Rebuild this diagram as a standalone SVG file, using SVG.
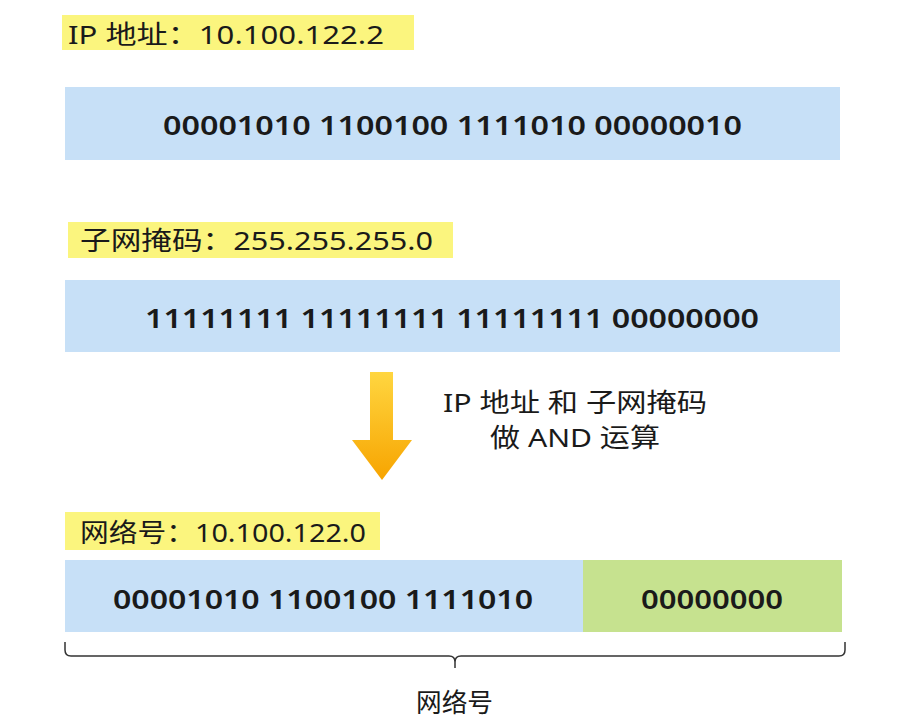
<svg xmlns="http://www.w3.org/2000/svg" width="911" height="726" viewBox="0 0 911 726">
<defs>
<style>
.lbl{fill:#fbf57e}
.bar{fill:#c7e0f7}
.grn{fill:#c6e28f}
.t{font-family:"Noto Sans","Noto Sans CJK SC",sans-serif;fill:#1a1a1a}
.l{font-size:26px}
.b{font-size:27px;font-weight:600}
.c{font-size:26px}
</style>
<linearGradient id="og" x1="0" y1="0" x2="0" y2="1"><stop offset="0" stop-color="#ffd640"/><stop offset="1" stop-color="#f7a400"/></linearGradient>
</defs>
<rect width="911" height="726" fill="#fff"/>
<g id="ip-label"><rect class="lbl" x="62" y="15" width="352" height="35"/><text class="t l" x="68" y="44" textLength="316" lengthAdjust="spacingAndGlyphs">IP 地址：10.100.122.2</text></g>
<g id="ip-bin"><rect class="bar" x="65" y="87" width="775" height="73"/><text class="t b" x="163" y="135" textLength="579" lengthAdjust="spacingAndGlyphs">00001010 1100100 1111010 00000010</text></g>
<g id="mask-label"><rect class="lbl" x="68" y="222" width="385" height="36"/><text class="t l" x="80" y="250" textLength="353" lengthAdjust="spacingAndGlyphs">子网掩码：255.255.255.0</text></g>
<g id="mask-bin"><rect class="bar" x="65" y="280" width="775" height="72"/><text class="t b" x="145" y="328" textLength="614" lengthAdjust="spacingAndGlyphs">11111111 11111111 11111111 00000000</text></g>
<g id="arrow"><path d="M370 372H393V440H412L382 480L352 440H370Z" fill="url(#og)"/></g>
<g id="op-text"><text class="t c" x="443" y="412" textLength="264" lengthAdjust="spacingAndGlyphs">IP 地址 和 子网掩码</text><text class="t c" x="490" y="447" textLength="170" lengthAdjust="spacingAndGlyphs">做 AND 运算</text></g>
<g id="net-label"><rect class="lbl" x="65" y="512" width="315" height="38"/><text class="t l" x="80" y="542" textLength="286" lengthAdjust="spacingAndGlyphs">网络号：10.100.122.0</text></g>
<g id="net-bin"><rect class="bar" x="65" y="560" width="518" height="72"/><rect class="grn" x="583" y="560" width="259" height="72"/><text class="t b" x="113" y="609" textLength="420" lengthAdjust="spacingAndGlyphs">00001010 1100100 1111010</text><text class="t b" x="641" y="609" textLength="142" lengthAdjust="spacingAndGlyphs">00000000</text></g>
<g id="connectors"><path d="M65 642V650Q65 656 71 656H449Q455 656 455 662V668M455 662Q455 656 461 656H839Q845 656 845 650V642" fill="none" stroke="#333" stroke-width="1.5"/></g>
<g id="brace-label"><text class="t c" x="416" y="712" textLength="77" lengthAdjust="spacingAndGlyphs">网络号</text></g>
</svg>
